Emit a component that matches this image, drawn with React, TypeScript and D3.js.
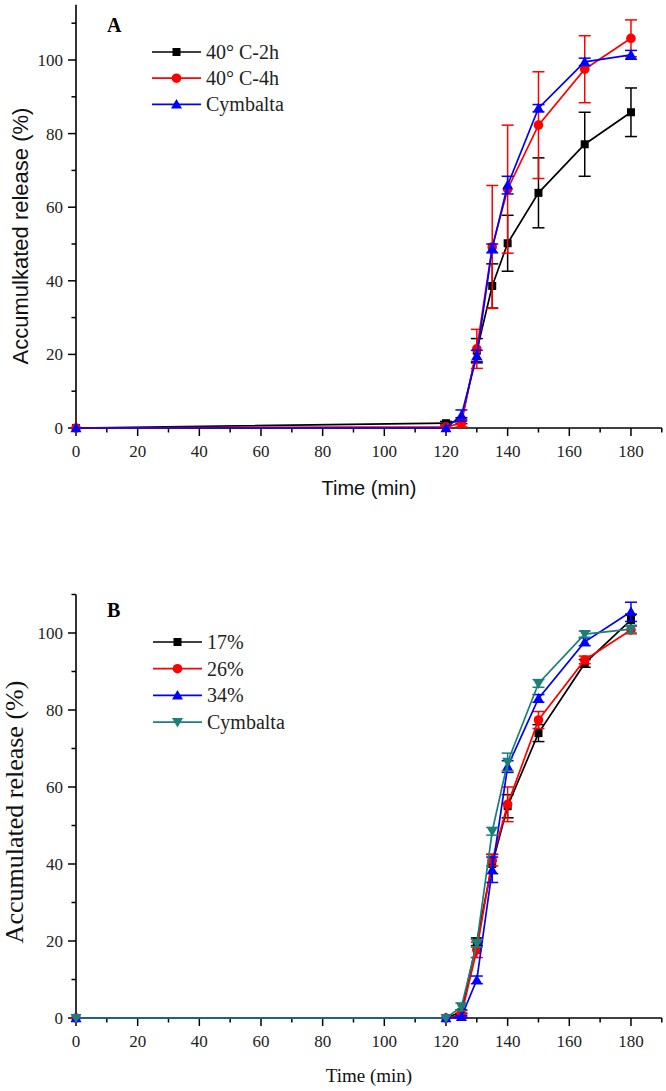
import React from "react";
import * as d3 from "d3";

// ---------- data ----------
const timesA = [0, 120, 125, 130, 135, 140, 150, 165, 180];
const a2hVals = [0, 1.3, 2.0, 21, 38.6, 50.2, 63.9, 77.1, 85.8];
const a2hErr = [0, 0.5, 0.8, 3.3, 6, 7.6, 9.5, 8.7, 6.6];
const a4hVals = [0, 0.3, 1.3, 21.5, 49.2, 64.9, 82.3, 97.5, 105.9];
const a4hErr = [0, 0.3, 1, 5.3, 16.7, 17.4, 14.5, 9.1, 5];
const cymAVals = [0, 0, 3.4, 19.6, 48.8, 66, 86.9, 99.5, 101.4];
const cymAErr = [0, 0, 1.5, 1.5, 1.2, 2.4, 1, 1, 1.2];
const legendA = ["40° C-2h", "40° C-4h", "Cymbalta"];

const timesB = [0, 120, 125, 130, 135, 140, 150, 165, 180];
const b17Vals = [0, 0, 1.6, 19.8, 40, 55, 74, 92.1, 103.4];
const b17Err = [0, 0, 0.5, 1, 2.5, 3, 2.2, 1, 1.5];
const b26Vals = [0, 0, 0.8, 17.7, 41, 55.5, 77.4, 93, 100.8];
const b26Err = [0, 0, 0.5, 2, 1.5, 4.5, 2.2, 1, 1];
const b34Vals = [0, 0, 0.3, 9.9, 38.5, 65.3, 83, 97.7, 105.5];
const b34Err = [0, 0, 0.3, 1, 3.3, 1.5, 1, 1, 2.5];
const cymBVals = [0, 0, 2.9, 19.4, 48.5, 66.5, 86.9, 99.7, 101];
const cymBErr = [0, 0, 1, 1, 1, 2.3, 1, 0.8, 1];
const legendB = ["17%", "26%", "34%", "Cymbalta"];

const xMajorTicks = [0, 20, 40, 60, 80, 100, 120, 140, 160, 180];
const xMinorTicks = [10, 30, 50, 70, 90, 110, 130, 150, 170, 190];
const yMajorTicks = [0, 20, 40, 60, 80, 100];
const yMinorTicks = [10, 30, 50, 70, 90, 110];

const SERIF = "'Liberation Serif', 'Times New Roman', serif";
const SANS = "'Liberation Sans', Arial, sans-serif";

type Shape = "square" | "circle" | "triUp" | "triDown";

interface Series {
  name: string;
  color: string;
  shape: Shape;
  values: number[];
  errs: number[];
}

function Marker({ shape, x, y, color }: { shape: Shape; x: number; y: number; color: string }) {
  if (shape === "square") return <rect x={x - 4} y={y - 4} width={8} height={8} fill={color} />;
  if (shape === "circle") return <circle cx={x} cy={y} r={4.8} fill={color} />;
  const s = 5.5;
  if (shape === "triUp")
    return <path d={`M${x},${y - s} L${x + s},${y + s * 0.75} L${x - s},${y + s * 0.75}Z`} fill={color} />;
  return <path d={`M${x},${y + s} L${x + s},${y - s * 0.75} L${x - s},${y - s * 0.75}Z`} fill={color} />;
}

interface PanelProps {
  times: number[];
  series: Series[];
  yMax: number;
  yTop: number;
  yBottom: number;
  letter: string;
  letterY: number;
  legendY0: number;
  legendStep: number;
  legendX0: number;
  yTitle: string;
  yTitleFont: string;
  yTitleSize: number;
  yTitleX: number;
  yTitleY: number;
  xTitleFont: string;
  xTitleSize: number;
  xTitleY: number;
}

function Panel(p: PanelProps) {
  const x = d3.scaleLinear().domain([0, 190]).range([76, 661.8]);
  const y = d3.scaleLinear().domain([0, p.yMax]).range([p.yBottom, p.yTop]);
  const line = d3
    .line<number>()
    .x((_, i) => x(p.times[i]))
    .y((d) => y(d));
  return (
    <g>
      {/* axes */}
      <line x1={x(0)} x2={x(190)} y1={y(0)} y2={y(0)} stroke="#000" strokeWidth={1.6} />
      <line x1={x(0)} x2={x(0)} y1={y(0)} y2={y(p.yMax)} stroke="#000" strokeWidth={1.6} />
      {xMajorTicks.map((t) => (
        <g key={"xm" + t}>
          <line x1={x(t)} x2={x(t)} y1={y(0)} y2={y(0) + 8} stroke="#000" strokeWidth={1.5} />
          <text x={x(t)} y={y(0) + 29} textAnchor="middle" fontFamily={SERIF} fontSize={17} fill="#222">
            {t}
          </text>
        </g>
      ))}
      {xMinorTicks.map((t) => (
        <line key={"xn" + t} x1={x(t)} x2={x(t)} y1={y(0)} y2={y(0) + 4.5} stroke="#000" strokeWidth={1.5} />
      ))}
      {yMajorTicks.map((t) => (
        <g key={"ym" + t}>
          <line x1={x(0) - 8} x2={x(0)} y1={y(t)} y2={y(t)} stroke="#000" strokeWidth={1.5} />
          <text x={x(0) - 13} y={y(t) + 6} textAnchor="end" fontFamily={SERIF} fontSize={17} fill="#222">
            {t}
          </text>
        </g>
      ))}
      {yMinorTicks.map((t) => (
        <line key={"yn" + t} x1={x(0) - 4.5} x2={x(0)} y1={y(t)} y2={y(t)} stroke="#000" strokeWidth={1.5} />
      ))}
      {/* series */}
      {p.series.map((s) => (
        <g key={s.name}>
          {s.values.map((v, i) =>
            s.errs[i] > 0 ? (
              <g key={"e" + i} stroke={s.color} strokeWidth={1.5}>
                <line x1={x(p.times[i])} x2={x(p.times[i])} y1={y(v - s.errs[i])} y2={y(v + s.errs[i])} />
                <line x1={x(p.times[i]) - 6} x2={x(p.times[i]) + 6} y1={y(v + s.errs[i])} y2={y(v + s.errs[i])} />
                <line x1={x(p.times[i]) - 6} x2={x(p.times[i]) + 6} y1={y(v - s.errs[i])} y2={y(v - s.errs[i])} />
              </g>
            ) : null
          )}
          <path d={line(s.values) || ""} fill="none" stroke={s.color} strokeWidth={1.7} />
          {s.values.map((v, i) => (
            <Marker key={"m" + i} shape={s.shape} x={x(p.times[i])} y={y(v)} color={s.color} />
          ))}
        </g>
      ))}
      {/* letter */}
      <text x={107} y={p.letterY} fontFamily={SERIF} fontWeight="bold" fontSize={20} fill="#000">
        {p.letter}
      </text>
      {/* legend */}
      {p.series.map((s, i) => {
        const ly = p.legendY0 + i * p.legendStep;
        return (
          <g key={"lg" + s.name}>
            <line x1={p.legendX0} x2={p.legendX0 + 49} y1={ly} y2={ly} stroke={s.color} strokeWidth={1.7} />
            <Marker shape={s.shape} x={p.legendX0 + 24.5} y={ly} color={s.color} />
            <text x={p.legendX0 + 54} y={ly + 7} fontFamily={SERIF} fontSize={20} fill="#222">
              {s.name}
            </text>
          </g>
        );
      })}
      {/* titles */}
      <text
        transform={`translate(${p.yTitleX},${p.yTitleY}) rotate(-90)`}
        textAnchor="middle"
        fontFamily={p.yTitleFont}
        fontSize={p.yTitleSize}
        fill="#111"
      >
        {p.yTitle}
      </text>
      <text
        x={(x(0) + x(190)) / 2}
        y={p.xTitleY}
        textAnchor="middle"
        fontFamily={p.xTitleFont}
        fontSize={p.xTitleSize}
        fill="#111"
      >
        Time (min)
      </text>
    </g>
  );
}

export default function App() {
  const seriesA: Series[] = [
    { name: legendA[0], color: "#000000", shape: "square", values: a2hVals, errs: a2hErr },
    { name: legendA[1], color: "#ff0000", shape: "circle", values: a4hVals, errs: a4hErr },
    { name: legendA[2], color: "#0000ff", shape: "triUp", values: cymAVals, errs: cymAErr },
  ];
  const seriesB: Series[] = [
    { name: legendB[0], color: "#000000", shape: "square", values: b17Vals, errs: b17Err },
    { name: legendB[1], color: "#ff0000", shape: "circle", values: b26Vals, errs: b26Err },
    { name: legendB[2], color: "#0000ff", shape: "triUp", values: b34Vals, errs: b34Err },
    { name: legendB[3], color: "#1d7f7a", shape: "triDown", values: cymBVals, errs: cymBErr },
  ];
  return (
    <svg
      width={666}
      height={1091}
      style={{ position: "absolute", left: 0, top: 0, display: "block", background: "#fff" }}
    >
      <rect width={666} height={1091} fill="#fff" />
      <Panel
        times={timesA}
        series={seriesA}
        yMax={115}
        yTop={4.8}
        yBottom={428}
        letter="A"
        letterY={32}
        legendY0={52}
        legendStep={26.2}
        legendX0={152}
        yTitle="Accumulkated release (%)"
        yTitleFont={SANS}
        yTitleSize={22}
        yTitleX={28}
        yTitleY={236}
        xTitleFont={SANS}
        xTitleSize={20}
        xTitleY={495}
      />
      <Panel
        times={timesB}
        series={seriesB}
        yMax={110}
        yTop={594.5}
        yBottom={1018}
        letter="B"
        letterY={617}
        legendY0={642}
        legendStep={26.7}
        legendX0={153}
        yTitle="Accumulated release (%)"
        yTitleFont={SERIF}
        yTitleSize={26}
        yTitleX={23}
        yTitleY={812}
        xTitleFont={SERIF}
        xTitleSize={19}
        xTitleY={1082}
      />
    </svg>
  );
}
